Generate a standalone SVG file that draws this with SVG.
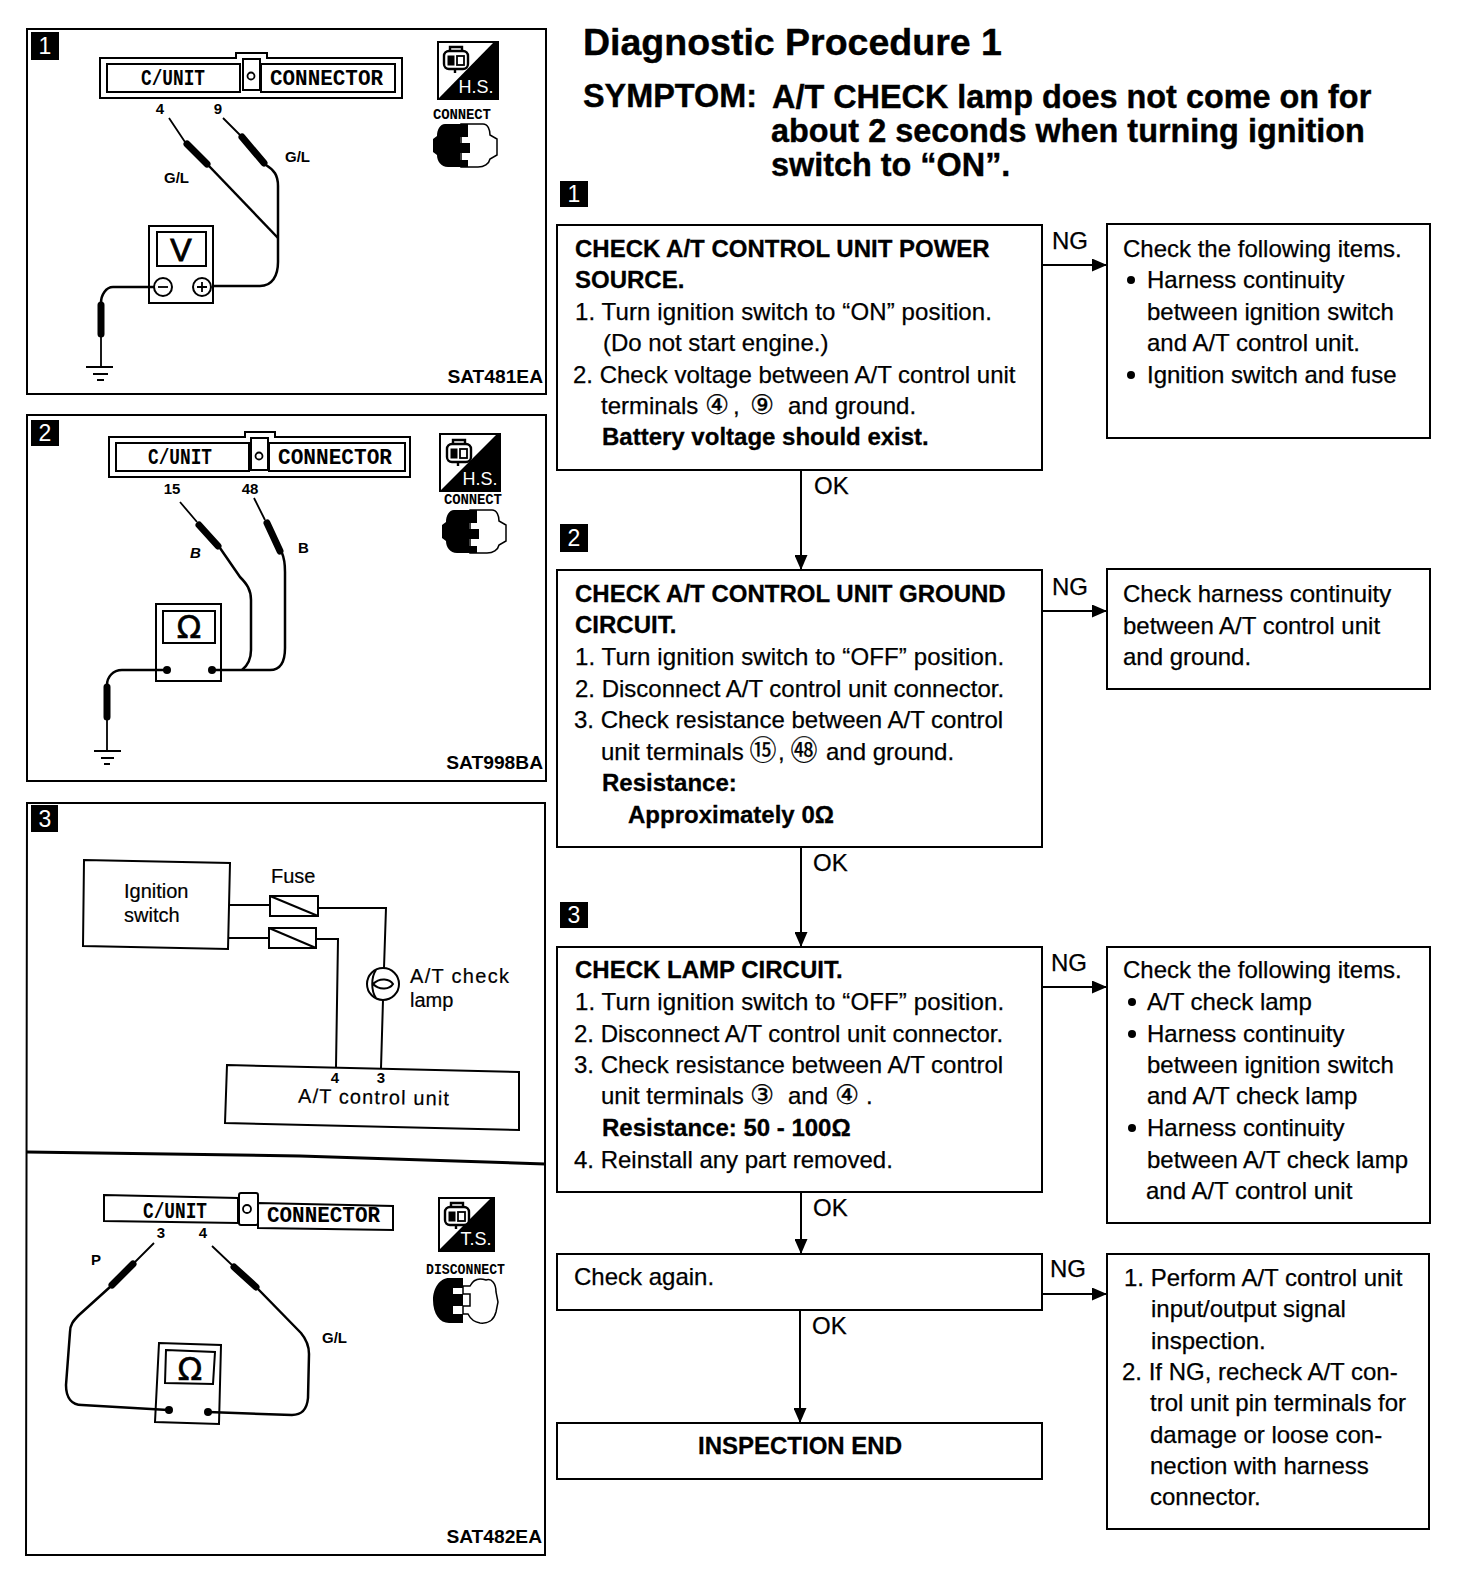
<svg xmlns="http://www.w3.org/2000/svg" width="1472" height="1592" viewBox="0 0 1472 1592">
<style>
text{font-family:"Liberation Sans",Arial,sans-serif;fill:#000}
.t{font-size:24px;stroke:#000;stroke-width:.25px}
.ls{letter-spacing:.12px}
.b{font-size:24px;font-weight:700;stroke:#000;stroke-width:.3px}
.h{font-size:32.4px;font-weight:700;stroke:#000;stroke-width:.4px}
.c{font-family:"DejaVu Sans","Noto Sans CJK SC",sans-serif;font-size:27px;text-anchor:middle}
.m{font-family:"Liberation Mono",monospace;font-weight:700;font-size:22px}
.s{font-family:"Liberation Mono",monospace;font-weight:700;font-size:14px}
.l{font-size:15px;font-weight:700}
.n{font-size:15px;font-weight:700;text-anchor:middle}
.d{font-size:20px;stroke:#000;stroke-width:.2px}
.code{font-size:19.2px;font-weight:700;text-anchor:end}
.num{font-size:23px;fill:#fff;text-anchor:middle}
.box{fill:#fff;stroke:#000;stroke-width:2px}
.nf{fill:none;stroke:#000;stroke-width:2px}
.w{fill:none;stroke:#000;stroke-width:2.5px;stroke-linejoin:round}
.p{fill:none;stroke:#000;stroke-width:7px;stroke-linecap:round}
.f{fill:none;stroke:#000;stroke-width:1.8px}
.k{fill:#000}
.wt{fill:#fff;stroke:#000;stroke-width:1.5px}
.hs{font-size:18px;fill:#fff;text-anchor:middle}
.omega{font-size:32px;text-anchor:middle;font-family:"DejaVu Sans",sans-serif;stroke:#000;stroke-width:.6px}
</style>
<defs>
<marker id="ah" markerWidth="15" markerHeight="13" refX="15" refY="6.5" orient="auto" markerUnits="userSpaceOnUse" viewBox="0 0 15 13"><path d="M0 0L15 6.5L0 13z" fill="#000"/></marker>
<symbol id="book" overflow="visible"><rect x="0" y="2" width="24" height="18" rx="5" fill="#fff" stroke="#000" stroke-width="2.4"/><rect x="4" y="7" width="6" height="9" fill="#000" stroke="#000" stroke-width="1"/><rect x="13" y="7" width="7" height="9" fill="none" stroke="#000" stroke-width="1.8"/><path d="M6 2V-2H18V2M11 20V24" fill="none" stroke="#000" stroke-width="2.4"/></symbol>
<symbol id="plug" overflow="visible"><path class="wt" d="M28 0H50C55 0 57 6 57 11L64 15V31L57 35C56 40 51 43 45 43H28z"/><path class="k" d="M12 0H35V13H27V19H37V29H27V36H35V43H15C8 43 4 37 4 31L0 28V15L4 12C4 6 7 0 12 0z"/></symbol>
</defs>
<rect width="1472" height="1592" fill="#fff"/>

<g id="panel-1">
<rect class="nf" x="27" y="29" width="519" height="365"/>
<rect class="k" x="31" y="32" width="28" height="28"/><text class="num" x="45" y="54">1</text>
<path class="nf" d="M100 58H236V53H267V58H402V98H100z"/>
<rect class="nf" x="107" y="64" width="133" height="28"/><rect class="nf" x="243" y="59" width="17" height="31"/><rect class="nf" x="261" y="64" width="134" height="28"/>
<circle class="f" cx="251" cy="76" r="3.5"/>
<text class="m" x="141" y="85" textLength="64" lengthAdjust="spacingAndGlyphs">C/UNIT</text>
<text class="m" x="270" y="85" textLength="113" lengthAdjust="spacingAndGlyphs">CONNECTOR</text>
<text class="n" x="160" y="114">4</text><text class="n" x="218" y="114">9</text>
<path class="f" d="M169 118L185 142M223 118L240 135"/>
<path class="p" d="M187 144L207 164M242 137L264 163"/>
<path class="w" d="M209 166L278 238"/>
<path class="w" d="M266 165C274 170 278 175 278 186V262C278 276 272 286 260 286H214"/>
<rect class="nf" x="149" y="226" width="64" height="77"/><rect class="nf" x="157" y="232" width="49" height="34"/>
<text x="181" y="261" font-size="32" text-anchor="middle" stroke="#000" stroke-width=".9">V</text>
<circle class="nf" cx="163" cy="287" r="9"/><path class="f" d="M158 287H168"/>
<circle class="nf" cx="202" cy="287" r="9"/><path class="f" d="M197 287H207M202 282V292"/>
<path class="w" d="M154 287H113C106 287 101 295 101 303"/>
<path class="p" d="M101 305V334"/><path class="f" d="M101 336V367"/>
<path class="nf" d="M86 367H113M93 374H108M97 380H104"/>
<text class="l" x="164" y="183">G/L</text><text class="l" x="285" y="162">G/L</text>
<path class="k" d="M437 41H499V100H437z"/><path fill="#fff" d="M439 43H493L439 98z"/>
<use href="#book" x="444" y="49"/>
<text class="hs" x="476" y="93">H.S.</text>
<text class="s" x="433" y="119" textLength="58">CONNECT</text>
<use href="#plug" x="433" y="124"/>
<text class="code" x="543" y="383">SAT481EA</text>
</g>

<g id="panel-2">
<rect class="nf" x="27" y="415" width="519" height="366"/>
<rect class="k" x="31" y="420" width="28" height="26"/><text class="num" x="45" y="441">2</text>
<path class="nf" d="M109 437H245V432H275V437H410V477H109z"/>
<rect class="nf" x="116" y="443" width="133" height="28"/><rect class="nf" x="251" y="438" width="17" height="32"/><rect class="nf" x="269" y="443" width="136" height="28"/>
<circle class="f" cx="259" cy="456" r="3.5"/>
<text class="m" x="148" y="464" textLength="64" lengthAdjust="spacingAndGlyphs">C/UNIT</text>
<text class="m" x="278" y="464" textLength="114" lengthAdjust="spacingAndGlyphs">CONNECTOR</text>
<text class="n" x="172" y="494">15</text><text class="n" x="250" y="494">48</text>
<path class="f" d="M180 502L197 522M254 498L265 520"/>
<path class="p" d="M199 525L218 546M267 523L280 551"/>
<path class="w" d="M220 548L240 577C247 584 251 590 251 600V650C251 660 247 666 242 670"/>
<path class="w" d="M282 553C285 560 285 565 285 572V648C285 662 280 670 270 670H213"/>
<rect class="nf" x="156" y="604" width="65" height="77"/><rect class="nf" x="163" y="611" width="52" height="32"/>
<text class="omega" x="189" y="638">Ω</text>
<circle class="k" cx="167" cy="670" r="4"/><circle class="k" cx="212" cy="670" r="4"/>
<path class="w" d="M166 670H122C113 670 107 677 107 685"/>
<path class="p" d="M107 687V717"/><path class="f" d="M107 719V751"/>
<path class="nf" d="M94 751H121M101 758H114M104 764H110"/>
<text class="l" x="190" y="558" font-style="italic">B</text><text class="l" x="298" y="553">B</text>
<path class="k" d="M439 433H501V492H439z"/><path fill="#fff" d="M441 435H496L441 490z"/>
<use href="#book" x="447" y="442"/>
<text class="hs" x="480" y="485">H.S.</text>
<text class="s" x="444" y="504" textLength="58">CONNECT</text>
<use href="#plug" x="442" y="510"/>
<text class="code" x="543" y="769">SAT998BA</text>
</g>

<g id="panel-3">
<path class="nf" d="M27 803H545V1555H26z"/>
<path d="M27 1152L300 1156L545 1164" fill="none" stroke="#000" stroke-width="3"/>
<rect class="k" x="31" y="805" width="27" height="27"/><text class="num" x="45" y="827">3</text>
<path class="nf" d="M84 860L230 863L228 949L83 946z"/>
<text class="d" x="124" y="898">Ignition</text><text class="d" x="124" y="922">switch</text>
<text class="d" x="271" y="883">Fuse</text>
<rect class="nf" x="270" y="896" width="48" height="20"/><path class="nf" d="M270 896L318 916"/>
<rect class="nf" x="269" y="928" width="47" height="20"/><path class="nf" d="M269 928L316 948"/>
<path class="nf" d="M230 905H270M229 938H269M318 908H386L384 968M316 939H338L336 1067M383 1000L381 1068"/>
<circle class="nf" cx="383" cy="984" r="16"/>
<path class="nf" d="M376 970C371 977 371 991 376 998M373 984C380 977 390 979 393 984C390 989 380 991 373 984z"/>
<text class="d" x="410" y="983" textLength="99">A/T check</text><text class="d" x="410" y="1007">lamp</text>
<path class="nf" d="M227 1065L519 1072L519 1130L225 1123z"/>
<text class="n" x="335" y="1083">4</text><text class="n" x="381" y="1083">3</text>
<text class="d" x="298" y="1104" textLength="151" transform="rotate(1 373 1100)">A/T control unit</text>
</g>

<g id="panel-4">
<path class="nf" d="M104 1195L238 1198V1223L104 1221z"/>
<path class="nf" d="M258 1203L393 1206V1230L258 1228z"/>
<rect class="nf" x="239" y="1193" width="19" height="32" rx="2"/>
<circle class="f" cx="247" cy="1209" r="4"/>
<text class="m" x="143" y="1218" textLength="64" lengthAdjust="spacingAndGlyphs">C/UNIT</text>
<text class="m" x="267" y="1222" textLength="113" lengthAdjust="spacingAndGlyphs">CONNECTOR</text>
<text class="n" x="161" y="1238">3</text><text class="n" x="203" y="1238">4</text>
<text class="l" x="91" y="1265">P</text><text class="l" x="322" y="1343">G/L</text>
<path class="f" d="M154 1243L135 1262M212 1246L232 1265"/>
<path class="p" d="M133 1264L112 1285M234 1267L256 1287"/>
<path class="w" d="M110 1287L79 1315C73 1321 70 1325 70 1332L66 1385C66 1398 72 1405 82 1405L168 1410"/>
<path class="w" d="M258 1289L301 1333C306 1339 309 1345 309 1354L308 1398C307 1409 302 1415 292 1415L208 1412"/>
<path class="nf" d="M159 1343L221 1345L219 1424L155 1422z"/>
<path class="nf" d="M166 1350L215 1352L213 1384L165 1383z"/>
<text class="omega" x="190" y="1380">Ω</text>
<circle class="k" cx="169" cy="1410" r="4"/><circle class="k" cx="208" cy="1412" r="4"/>
<path class="k" d="M438 1197H495V1252H438z"/><path fill="#fff" d="M440 1199H490L440 1249z"/>
<use href="#book" x="445" y="1205"/>
<text class="hs" x="476" y="1245">T.S.</text>
<text class="s" x="426" y="1274" font-size="13" textLength="79" lengthAdjust="spacingAndGlyphs">DISCONNECT</text>
<path class="wt" d="M463 1286H470C474 1278 480 1278 486 1280C492 1278 496 1284 496 1292L498 1302L496 1312C494 1320 488 1324 480 1323C474 1322 470 1318 468 1314H463V1306H470V1294H463z"/>
<path class="k" d="M449 1278H463V1288H453V1294H463V1306H453V1314H463V1323H449C440 1323 433 1314 433 1300C433 1288 440 1278 449 1278z"/>
<text class="code" x="542" y="1543">SAT482EA</text>
</g>

<g id="title">
<text x="583" y="55" font-size="37.5" font-weight="700" stroke="#000" stroke-width=".4">Diagnostic Procedure 1</text>
<text class="h" x="583" y="107">SYMPTOM:</text>
<text class="h" x="772" y="108">A/T CHECK lamp does not come on for</text>
<text class="h" x="771" y="142">about 2 seconds when turning ignition</text>
<text class="h" x="771" y="176">switch to “ON”.</text>
</g>

<g id="connectors" fill="none" stroke="#000" stroke-width="2">
<path d="M801 470V570" marker-end="url(#ah)"/>
<path d="M801 847V947" marker-end="url(#ah)"/>
<path d="M801 1192V1254" marker-end="url(#ah)"/>
<path d="M800 1310V1423" marker-end="url(#ah)"/>
<path d="M1042 265H1107" marker-end="url(#ah)"/>
<path d="M1042 611H1107" marker-end="url(#ah)"/>
<path d="M1042 987H1107" marker-end="url(#ah)"/>
<path d="M1042 1294H1107" marker-end="url(#ah)"/>
</g>
<g id="edge-labels">
<text class="t" x="1052" y="249">NG</text><text class="t" x="1052" y="595">NG</text><text class="t" x="1051" y="971">NG</text><text class="t" x="1050" y="1277">NG</text>
<text class="t" x="814" y="494">OK</text><text class="t" x="813" y="871">OK</text><text class="t" x="813" y="1216">OK</text><text class="t" x="812" y="1334">OK</text>
</g>

<g id="step-1"><rect class="k" x="560" y="181" width="28" height="26"/><text class="num" x="574" y="202">1</text>
<rect class="box" x="557" y="225" width="485" height="245"/>
<text class="b" x="575" y="257">CHECK A/T CONTROL UNIT POWER</text>
<text class="b" x="575" y="288">SOURCE.</text>
<text class="t ls" x="575" y="320">1. Turn ignition switch to “ON” position.</text>
<text class="t" x="603" y="351">(Do not start engine.)</text>
<text class="t" x="573" y="383">2. Check voltage between A/T control unit</text>
<text class="t" x="601" y="414">terminals<tspan x="717" class="c">④</tspan><tspan x="733">,</tspan><tspan x="762" class="c">⑨</tspan><tspan x="788">and ground.</tspan></text>
<text class="b" x="602" y="445">Battery voltage should exist.</text>
</g>
<g id="ng-1"><rect class="box" x="1107" y="224" width="323" height="214"/>
<text class="t" x="1123" y="257">Check the following items.</text>
<circle class="k" cx="1131" cy="280" r="4"/><text class="t" x="1147" y="288">Harness continuity</text>
<text class="t" x="1147" y="320">between ignition switch</text>
<text class="t" x="1147" y="351">and A/T control unit.</text>
<circle class="k" cx="1131" cy="375" r="4"/><text class="t" x="1147" y="383">Ignition switch and fuse</text>
</g>

<g id="step-2"><rect class="k" x="560" y="524" width="28" height="28"/><text class="num" x="574" y="546">2</text>
<rect class="box" x="557" y="570" width="485" height="277"/>
<text class="b" x="575" y="602">CHECK A/T CONTROL UNIT GROUND</text>
<text class="b" x="575" y="633">CIRCUIT.</text>
<text class="t ls" x="575" y="665">1. Turn ignition switch to “OFF” position.</text>
<text class="t" x="575" y="697">2. Disconnect A/T control unit connector.</text>
<text class="t" x="574" y="728">3. Check resistance between A/T control</text>
<text class="t" x="601" y="760">unit terminals<tspan x="763" class="c">⑮</tspan><tspan x="778">,</tspan><tspan x="804" class="c">㊽</tspan><tspan x="826">and ground.</tspan></text>
<text class="b" x="602" y="791">Resistance:</text>
<text class="b" x="628" y="823">Approximately 0Ω</text>
</g>
<g id="ng-2"><rect class="box" x="1107" y="569" width="323" height="120"/>
<text class="t" x="1123" y="602">Check harness continuity</text>
<text class="t" x="1123" y="634">between A/T control unit</text>
<text class="t" x="1123" y="665">and ground.</text>
</g>

<g id="step-3"><rect class="k" x="560" y="902" width="28" height="26"/><text class="num" x="574" y="923">3</text>
<rect class="box" x="557" y="947" width="485" height="245"/>
<text class="b" x="575" y="978">CHECK LAMP CIRCUIT.</text>
<text class="t ls" x="575" y="1010">1. Turn ignition switch to “OFF” position.</text>
<text class="t" x="574" y="1042">2. Disconnect A/T control unit connector.</text>
<text class="t" x="574" y="1073">3. Check resistance between A/T control</text>
<text class="t" x="601" y="1104">unit terminals<tspan x="762" class="c">③</tspan><tspan x="788">and</tspan><tspan x="847" class="c">④</tspan><tspan x="866">.</tspan></text>
<text class="b" x="602" y="1136">Resistance: 50 - 100Ω</text>
<text class="t" x="574" y="1168">4. Reinstall any part removed.</text>
</g>
<g id="ng-3"><rect class="box" x="1107" y="947" width="323" height="276"/>
<text class="t" x="1123" y="978">Check the following items.</text>
<circle class="k" cx="1132" cy="1002" r="4"/><text class="t" x="1147" y="1010">A/T check lamp</text>
<circle class="k" cx="1132" cy="1034" r="4"/><text class="t" x="1147" y="1042">Harness continuity</text>
<text class="t" x="1147" y="1073">between ignition switch</text>
<text class="t" x="1147" y="1104">and A/T check lamp</text>
<circle class="k" cx="1132" cy="1128" r="4"/><text class="t" x="1147" y="1136">Harness continuity</text>
<text class="t" x="1147" y="1168">between A/T check lamp</text>
<text class="t" x="1146" y="1199">and A/T control unit</text>
</g>

<g id="step-4"><rect class="box" x="557" y="1254" width="485" height="56"/>
<text class="t" x="574" y="1285">Check again.</text></g>
<g id="ng-4"><rect class="box" x="1107" y="1254" width="322" height="275"/>
<text class="t" x="1124" y="1286">1. Perform A/T control unit</text>
<text class="t" x="1151" y="1317">input/output signal</text>
<text class="t" x="1151" y="1349">inspection.</text>
<text class="t" x="1122" y="1380">2. If NG, recheck A/T con-</text>
<text class="t" x="1150" y="1411">trol unit pin terminals for</text>
<text class="t" x="1150" y="1443">damage or loose con-</text>
<text class="t" x="1150" y="1474">nection with harness</text>
<text class="t" x="1150" y="1505">connector.</text>
</g>
<g id="end"><rect class="box" x="557" y="1423" width="485" height="56"/>
<text class="b" x="800" y="1454" text-anchor="middle">INSPECTION END</text></g>
</svg>
